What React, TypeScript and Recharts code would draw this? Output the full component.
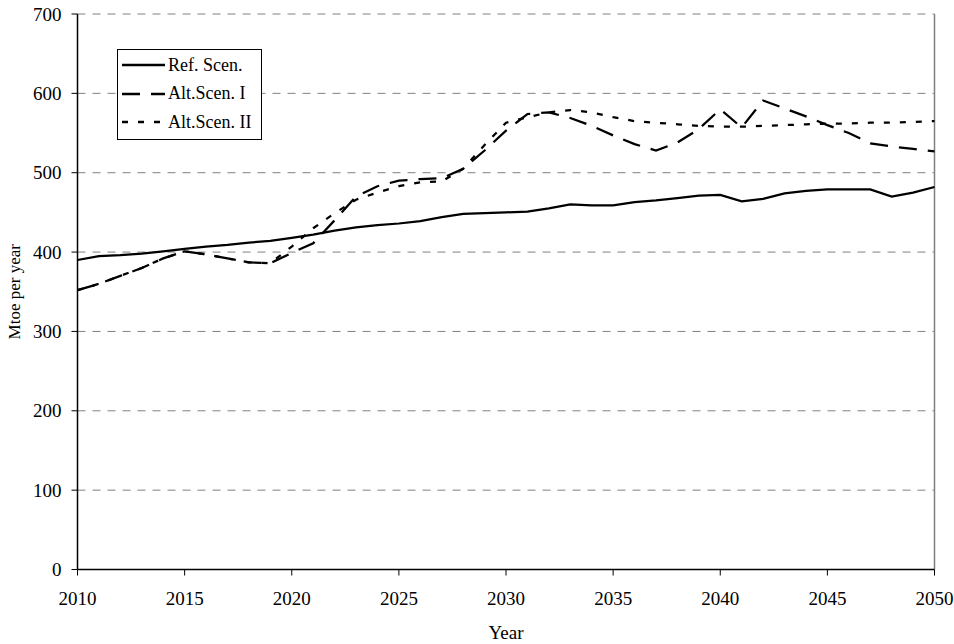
import React from "react";
import {
  LineChart,
  Line,
  XAxis,
  YAxis,
  CartesianGrid,
  Legend,
  ReferenceLine,
  Label,
} from "recharts";

const years = [
  2010, 2011, 2012, 2013, 2014, 2015, 2016, 2017, 2018, 2019, 2020, 2021, 2022,
  2023, 2024, 2025, 2026, 2027, 2028, 2029, 2030, 2031, 2032, 2033, 2034, 2035,
  2036, 2037, 2038, 2039, 2040, 2041, 2042, 2043, 2044, 2045, 2046, 2047, 2048,
  2049, 2050,
];

const refScen = [
  390, 395, 396, 398, 401, 404, 407, 409, 412, 414, 418, 422, 427, 431, 434,
  436, 439, 444, 448, 449, 450, 451, 455, 460, 459, 459, 463, 465, 468, 471,
  472, 464, 467, 474, 477, 479, 479, 479, 470, 475, 482,
];

const altScen1 = [
  352, 360, 370, 380, 392, 401, 397, 392, 387, 386, 399, 411, 440, 470, 483,
  490, 492, 493, 505, 528, 553, 574, 576, 569, 559, 547, 536, 528, 538, 555,
  580, 557, 591, 581, 571, 560, 550, 537, 533, 530, 527,
];

const altScen2 = [
  352, 360, 370, 380, 392, 401, 397, 392, 387, 386, 407, 430, 449, 466, 475,
  483, 488, 489, 505, 535, 563, 570, 576, 579, 576, 570, 565, 563, 561, 559,
  558, 558, 559, 560, 561, 562, 562, 563, 563, 564, 565,
];

const xTicks = [2010, 2015, 2020, 2025, 2030, 2035, 2040, 2045, 2050];
const yTicks = [0, 100, 200, 300, 400, 500, 600, 700];

const seriesKeys = ["ref", "alt1", "alt2"];
const seriesNames = ["Ref. Scen.", "Alt.Scen. I", "Alt.Scen. II"];

const data = years.map((year, i) => ({
  year,
  ref: refScen[i],
  alt1: altScen1[i],
  alt2: altScen2[i],
}));

const font = "'Liberation Serif', 'Times New Roman', serif";

const dashes: Record<string, string | undefined> = {
  ref: undefined,
  alt1: "18 11",
  alt2: "6 10",
};

const XTick = (props: any) => {
  const { x, y, payload } = props;
  return (
    <text
      x={x}
      y={y}
      dy="0.75em"
      textAnchor="middle"
      fontFamily={font}
      fontSize={19}
      fill="#000"
    >
      {payload.value}
    </text>
  );
};

const YTick = (props: any) => {
  const { x, y, payload } = props;
  return (
    <text
      x={x}
      y={y}
      dy="0.35em"
      textAnchor="end"
      fontFamily={font}
      fontSize={19}
      fill="#000"
    >
      {payload.value}
    </text>
  );
};

// legend drawn in series order (recharts sorts payload by name otherwise)
const renderLegend = () => (
  <div
    style={{
      border: "1px solid #000",
      background: "#fff",
      padding: "1px 10px 2px 4px",
      fontFamily: font,
      fontSize: 18,
      color: "#000",
    }}
  >
    {seriesKeys.map((key, i) => (
      <div
        key={key}
        style={{ display: "flex", alignItems: "center", height: 28.5 }}
      >
        <svg width={43} height={6} style={{ display: "block" }}>
          <line
            x1={0}
            y1={3}
            x2={43}
            y2={3}
            stroke="#000"
            strokeWidth={2.5}
            strokeDasharray={dashes[key]}
          />
        </svg>
        <span style={{ marginLeft: 3, whiteSpace: "nowrap" }}>
          {seriesNames[i]}
        </span>
      </div>
    ))}
  </div>
);

export default function App() {
  return (
    <div
      style={{
        position: "absolute",
        left: 0,
        top: 0,
        width: 954,
        height: 644,
        background: "#fff",
        fontFamily: font,
      }}
    >
      <LineChart
        width={954}
        height={644}
        data={data}
        margin={{ top: 14, right: 19.5, bottom: 14.5, left: 17.5 }}
      >
        <CartesianGrid
          vertical={false}
          stroke="#808080"
          strokeDasharray="8 7"
        />
        <XAxis
          dataKey="year"
          type="number"
          domain={[2010, 2050]}
          ticks={xTicks}
          interval={0}
          height={60}
          tickSize={6}
          tickMargin={15}
          axisLine={{ stroke: "#000", strokeWidth: 1.5 }}
          tickLine={{ stroke: "#000" }}
          tick={<XTick />}
        >
          <Label
            content={(p: any) => {
              const vb = p.viewBox || {};
              return (
                <text
                  x={vb.x + vb.width / 2}
                  y={632}
                  textAnchor="middle"
                  dominantBaseline="central"
                  fontFamily={font}
                  fontSize={19}
                  fill="#000"
                >
                  Year
                </text>
              );
            }}
          />
        </XAxis>
        <YAxis
          type="number"
          domain={[0, 700]}
          ticks={yTicks}
          interval={0}
          width={60}
          tickSize={6}
          tickMargin={10}
          axisLine={{ stroke: "#000", strokeWidth: 1.5 }}
          tickLine={{ stroke: "#000" }}
          tick={<YTick />}
        >
          <Label
            content={(p: any) => {
              const vb = p.viewBox || {};
              const cy = vb.y + vb.height / 2;
              return (
                <text
                  x={14}
                  y={cy}
                  textAnchor="middle"
                  dominantBaseline="central"
                  transform={`rotate(-90, 14, ${cy})`}
                  fontFamily={font}
                  fontSize={17}
                  fill="#000"
                >
                  Mtoe per year
                </text>
              );
            }}
          />
        </YAxis>
        <ReferenceLine x={2050} stroke="#808080" strokeWidth={1.5} />
        <Legend
          layout="vertical"
          align="center"
          verticalAlign="middle"
          content={renderLegend}
          wrapperStyle={{ left: 117, top: 49, width: "auto", height: "auto" }}
        />
        <Line
          type="linear"
          dataKey="ref"
          name={seriesNames[0]}
          stroke="#000"
          strokeWidth={2.25}
          dot={false}
          isAnimationActive={false}
        />
        <Line
          type="linear"
          dataKey="alt1"
          name={seriesNames[1]}
          stroke="#000"
          strokeWidth={2.25}
          strokeDasharray={dashes.alt1}
          dot={false}
          isAnimationActive={false}
        />
        <Line
          type="linear"
          dataKey="alt2"
          name={seriesNames[2]}
          stroke="#000"
          strokeWidth={2.25}
          strokeDasharray={dashes.alt2}
          dot={false}
          isAnimationActive={false}
        />
      </LineChart>
    </div>
  );
}
